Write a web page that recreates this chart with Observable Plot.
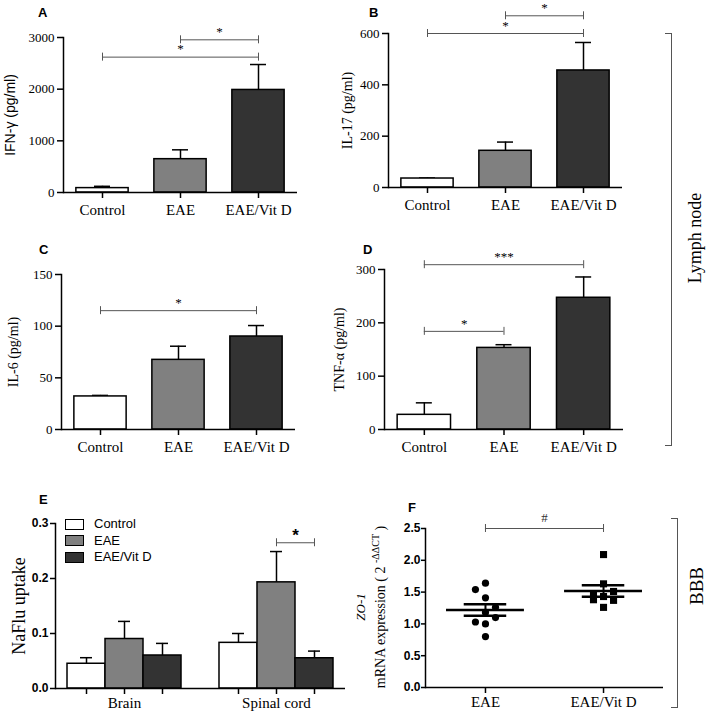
<!DOCTYPE html>
<html><head><meta charset="utf-8">
<script src="https://cdn.jsdelivr.net/npm/d3@7"></script>
<script src="https://cdn.jsdelivr.net/npm/@observablehq/plot@0.6"></script>
<style>
body{margin:0;background:#fff;}
#fig{position:relative;width:708px;height:716px;overflow:hidden;background:#fff;font-family:"Liberation Serif",serif;color:#000;}
.plab{position:absolute;font:bold 13px "Liberation Sans",Arial,sans-serif;line-height:13px;}
.rot{position:absolute;transform:translate(-50%,-50%) rotate(-90deg);white-space:nowrap;font-family:"Liberation Serif",serif;}
.brk{position:absolute;border:1.2px solid #555;border-left:none;box-sizing:border-box;}
.leg{position:absolute;font:13px "Liberation Sans",Arial,sans-serif;line-height:16.5px;}
.leg div{display:flex;align-items:center;height:16.5px;}
.leg span.sw{display:inline-block;width:17px;height:9px;border:1.5px solid #000;margin-right:10px;}
</style></head><body><div id="fig"></div>
<script>
// ---------- data ----------
const groups = ["Control", "EAE", "EAE/Vit D"];
const colors = ["#ffffff", "#808080", "#333333"];

// A: IFN-gamma
const ifnMean = [85, 645, 1985];
const ifnSem = [35, 181, 492];
const ifnSig = [{a: "EAE", b: "EAE/Vit D", y: 2955, t: "*"}, {a: "Control", b: "EAE/Vit D", y: 2620, t: "*"}];
const ifnTicks = [0, 1000, 2000, 3000];

// B: IL-17
const il17Mean = [35, 143, 456];
const il17Sem = [2, 34, 109];
const il17Sig = [{a: "EAE", b: "EAE/Vit D", y: 669, t: "*"}, {a: "Control", b: "EAE/Vit D", y: 600, t: "*"}];
const il17Ticks = [0, 200, 400, 600];

// C: IL-6
const il6Mean = [32, 67.4, 90];
const il6Sem = [1, 13.2, 10.6];
const il6Sig = [{a: "Control", b: "EAE/Vit D", y: 115, t: "*"}];
const il6Ticks = [0, 50, 100, 150];

// D: TNF-alpha
const tnfMean = [27.5, 153, 247];
const tnfSem = [22.5, 6, 39];
const tnfSig = [{a: "Control", b: "EAE/Vit D", y: 309, t: "***"}, {a: "Control", b: "EAE", y: 184, t: "*"}];
const tnfTicks = [0, 100, 200, 300];

// E: NaFlu uptake
const regions = ["Brain", "Spinal cord"];
const brainMean = [0.045, 0.090, 0.060];
const brainSem = [0.011, 0.032, 0.022];
const spinalMean = [0.083, 0.193, 0.055];
const spinalSem = [0.017, 0.056, 0.013];
const naSig = [{r: "Spinal cord", a: "EAE", b: "EAE/Vit D", y: 0.265, t: "*"}];
const naTicks = [0, 0.1, 0.2, 0.3];

// F: ZO-1 mRNA
const fGroups = ["EAE", "EAE/Vit D"];
const zoEAE = [1.64, 1.54, 1.41, 1.26, 1.18, 1.10, 1.03, 1.00, 0.80];
const zoEAEcol = [0, -1, 0, 1, 0, 1, -1, 0, 0];
const zoVitD = [2.09, 1.63, 1.51, 1.47, 1.43, 1.38, 1.37, 1.26];
const zoVitDcol = [0, 0, 1, -1, 0, -1, 1, 0];
const zoSig = [{a: 0, b: 1, y: 2.5, t: "#"}];
const zoTicks = [0, 0.5, 1.0, 1.5, 2.0, 2.5];

// ---------- helpers ----------
const SERIF = "Liberation Serif, Times New Roman, serif";
const SANS = "Liberation Sans, Arial, sans-serif";
const fig = document.getElementById("fig");
function place(node, left, top) {
  node.style.position = "absolute";
  node.style.left = left + "px";
  node.style.top = top + "px";
  fig.appendChild(node);
}
const baseStyle = {background: "transparent", fontFamily: SERIF, color: "black", overflow: "visible", fontSize: "13px"};

function barPanel(o) {
  const data = groups.map((g, i) => ({g, m: o.means[i], s: o.sems[i]}));
  const pi = 0.33, po = 0.165;
  const step = (o.width - o.mL - o.mR) / (groups.length - pi + 2 * po);
  const bw = step * (1 - pi);
  const capHalf = 8;
  const ends = o.sig.flatMap(s => [{x: s.a, y: s.y}, {x: s.b, y: s.y}]);
  const svg = Plot.plot({
    width: o.width, height: o.height,
    marginLeft: o.mL, marginRight: o.mR, marginTop: o.mT, marginBottom: o.mB,
    x: {domain: groups, paddingInner: pi, paddingOuter: po, round: false},
    y: {domain: o.yDomain},
    color: {domain: groups, range: colors},
    style: baseStyle,
    marks: [
      Plot.ruleX(data, {x: "g", y1: "m", y2: d => d.m + d.s, stroke: "black", strokeWidth: 1.5}),
      Plot.tickY(data, {x: "g", y: d => d.m + d.s, insetLeft: bw / 2 - capHalf, insetRight: bw / 2 - capHalf, stroke: "black", strokeWidth: 1.5}),
      Plot.barY(data, {x: "g", y: "m", fill: "g", stroke: "black", strokeWidth: 1.5}),
      Plot.ruleY([0], {stroke: "black", strokeWidth: 1.5}),
      Plot.frame({anchor: "left", stroke: "black", strokeWidth: 1.5}),
      Plot.axisY({ticks: o.yTicks, tickFormat: d3.format("d"), tickSize: 6, tickPadding: 3, fontSize: 13, fontFamily: SERIF, label: null, strokeWidth: 1.5}),
      Plot.axisX({tickSize: 6, tickPadding: 6, fontSize: 15, fontFamily: SERIF, label: null, strokeWidth: 1.5}),
      Plot.ruleY(o.sig, {x1: "a", x2: "b", y: "y", insetLeft: bw / 2, insetRight: bw / 2, stroke: "#555", strokeWidth: 1}),
      Plot.ruleX(ends, {x: "x", y1: "y", y2: "y", insetTop: -4, insetBottom: -4, stroke: "#555", strokeWidth: 1}),
      ...o.sig.map(s => Plot.text([s], {x: "a", y: "y", text: "t", dx: (groups.indexOf(s.b) - groups.indexOf(s.a)) * step / 2, dy: -8, fontSize: 13, fontFamily: SERIF, fill: "black"})),
      Plot.text([o.yLabel], {text: d => d, frameAnchor: "left", textAnchor: "middle", rotate: -90, dx: o.labelDx, fontFamily: o.labelFont, fontSize: o.labelSize})
    ]
  });
  place(svg, o.left, o.top);
}

// ---------- panels A-D ----------
barPanel({means: ifnMean, sems: ifnSem, sig: ifnSig, yDomain: [0, 3000], yTicks: ifnTicks,
  yLabel: "IFN-γ (pg/ml)", labelFont: SANS, labelSize: 14, labelDx: -53,
  left: 0, top: 0, width: 300, height: 225, mL: 63, mR: 3, mT: 37, mB: 33});
barPanel({means: il17Mean, sems: il17Sem, sig: il17Sig, yDomain: [0, 600], yTicks: il17Ticks,
  yLabel: "IL-17 (pg/ml)", labelFont: SERIF, labelSize: 14, labelDx: -41,
  left: 330, top: 0, width: 300, height: 220, mL: 58, mR: 8, mT: 33, mB: 33});
barPanel({means: il6Mean, sems: il6Sem, sig: il6Sig, yDomain: [0, 150], yTicks: il6Ticks,
  yLabel: "IL-6 (pg/ml)", labelFont: SERIF, labelSize: 14, labelDx: -48,
  left: 0, top: 220, width: 300, height: 240, mL: 61, mR: 5, mT: 54, mB: 31});
barPanel({means: tnfMean, sems: tnfSem, sig: tnfSig, yDomain: [0, 300], yTicks: tnfTicks,
  yLabel: "TNF-α (pg/ml)", labelFont: SERIF, labelSize: 14, labelDx: -45,
  left: 330, top: 220, width: 300, height: 240, mL: 54, mR: 7, mT: 49, mB: 31});

// ---------- panel E ----------
(function () {
  const W = 345, H = 236, mL = 55, mR = 0, mT = 43, mB = 28;
  const pi = 0.25, po = 0.079;
  const step = (W - mL - mR) / (regions.length - pi + 2 * po);
  const bw = step * (1 - pi);
  const sub = bw / 3;
  const capHalf = 6;
  const data = regions.flatMap((r, ri) => groups.map((g, gi) => ({
    r, g, gi,
    m: ri === 0 ? brainMean[gi] : spinalMean[gi],
    s: ri === 0 ? brainSem[gi] : spinalSem[gi]
  })));
  const marks = [];
  groups.forEach((g, gi) => {
    const d = data.filter(e => e.gi === gi);
    marks.push(
      Plot.ruleX(d, {x: "r", y1: "m", y2: e => e.m + e.s, dx: (gi - 1) * sub, stroke: "black", strokeWidth: 1.5}),
      Plot.tickY(d, {x: "r", y: e => e.m + e.s, insetLeft: sub * gi + sub / 2 - capHalf, insetRight: bw - (sub * gi + sub / 2 + capHalf), stroke: "black", strokeWidth: 1.5}),
      Plot.barY(d, {x: "r", y: "m", fill: "g", insetLeft: sub * gi, insetRight: sub * (2 - gi), stroke: "black", strokeWidth: 1.5}),
      Plot.ruleX(d, {x: "r", y1: 0, y2: 0, dx: (gi - 1) * sub, insetBottom: -6, stroke: "black", strokeWidth: 1.5})
    );
  });
  const ends = naSig.flatMap(s => [{r: s.r, gi: groups.indexOf(s.a), y: s.y}, {r: s.r, gi: groups.indexOf(s.b), y: s.y}]);
  marks.push(
    Plot.ruleY([0], {stroke: "black", strokeWidth: 1.5}),
    Plot.frame({anchor: "left", stroke: "black", strokeWidth: 1.5}),
    Plot.axisY({ticks: naTicks, tickFormat: d3.format(".1f"), tickSize: 5, tickPadding: 2, fontSize: 12, fontWeight: "bold", fontFamily: SANS, label: null, strokeWidth: 1.5}),
    Plot.axisX({tickSize: 0, tickPadding: 9, fontSize: 15, fontFamily: SERIF, label: null}),
    ...naSig.map(s => {
      const ia = groups.indexOf(s.a), ib = groups.indexOf(s.b);
      return Plot.ruleY([s], {x1: "r", x2: "r", y: "y", insetLeft: sub * ia + sub / 2, insetRight: bw - (sub * ib + sub / 2), stroke: "#555", strokeWidth: 1});
    }),
    ...ends.map(e => Plot.ruleX([e], {x: "r", y1: "y", y2: "y", dx: (e.gi - 1) * sub, insetTop: -4, insetBottom: -4, stroke: "#555", strokeWidth: 1})),
    ...naSig.map(s => Plot.text([s], {x: "r", y: "y", text: "t", dx: ((groups.indexOf(s.a) + groups.indexOf(s.b)) / 2 - 1) * sub, dy: -7, fontSize: 17, fontWeight: "bold", fontFamily: SANS})),
    Plot.text(["NaFlu uptake"], {text: d => d, frameAnchor: "left", textAnchor: "middle", rotate: -90, dx: -36, fontSize: 18, fontFamily: SERIF})
  );
  const svg = Plot.plot({
    width: W, height: H, marginLeft: mL, marginRight: mR, marginTop: mT, marginBottom: mB,
    x: {domain: regions, paddingInner: pi, paddingOuter: po, round: false},
    y: {domain: [0, 0.3]},
    color: {domain: groups, range: colors},
    style: baseStyle,
    marks
  });
  place(svg, 0, 480);

  // legend
  const leg = document.createElement("div");
  leg.className = "leg";
  leg.style.left = "65px";
  leg.style.top = "516px";
  groups.forEach((g, i) => {
    const row = document.createElement("div");
    const sw = document.createElement("span");
    sw.className = "sw";
    sw.style.background = colors[i];
    row.appendChild(sw);
    row.appendChild(document.createTextNode(g));
    leg.appendChild(row);
  });
  fig.appendChild(leg);
})();

// ---------- panel F ----------
(function () {
  const W = 330, H = 236, mL = 85, mR = 7, mT = 48, mB = 29;
  const jit = 0.085;
  const pts = [
    ...zoEAE.map((v, i) => ({gi: 0, v, col: zoEAEcol[i]})),
    ...zoVitD.map((v, i) => ({gi: 1, v, col: zoVitDcol[i]}))
  ];
  const stats = [zoEAE, zoVitD].map((arr, gi) => {
    const mean = d3.mean(arr);
    const sem = d3.deviation(arr) / Math.sqrt(arr.length);
    return {gi, mean, lo: mean - sem, hi: mean + sem};
  });
  const ends = zoSig.flatMap(s => [{x: s.a, y: s.y}, {x: s.b, y: s.y}]);
  const svg = Plot.plot({
    width: W, height: H, marginLeft: mL, marginRight: mR, marginTop: mT, marginBottom: mB,
    x: {type: "linear", domain: [-0.508, 1.508]},
    y: {domain: [0, 2.5]},
    style: baseStyle,
    marks: [
      Plot.dot(pts.filter(p => p.gi === 0), {x: p => p.gi + p.col * jit, y: "v", r: 3.6, fill: "black", symbol: "circle"}),
      Plot.dot(pts.filter(p => p.gi === 1), {x: p => p.gi + p.col * jit, y: "v", r: 4, fill: "black", symbol: "square"}),
      Plot.ruleY(stats, {x1: d => d.gi - 0.33, x2: d => d.gi + 0.33, y: "mean", stroke: "black", strokeWidth: 2.5}),
      Plot.ruleY(stats, {x1: d => d.gi - 0.18, x2: d => d.gi + 0.18, y: "lo", stroke: "black", strokeWidth: 2.5}),
      Plot.ruleY(stats, {x1: d => d.gi - 0.18, x2: d => d.gi + 0.18, y: "hi", stroke: "black", strokeWidth: 2.5}),
      Plot.ruleX(stats, {x: "gi", y1: "lo", y2: "hi", stroke: "black", strokeWidth: 2}),
      Plot.ruleY([0], {stroke: "black", strokeWidth: 1.5}),
      Plot.frame({anchor: "left", stroke: "black", strokeWidth: 1.5}),
      Plot.axisY({ticks: zoTicks, tickFormat: d3.format(".1f"), tickSize: 4, tickPadding: 1, fontSize: 12, fontWeight: "bold", fontFamily: SANS, label: null, strokeWidth: 1.5}),
      Plot.axisX({ticks: [0, 1], tickFormat: i => fGroups[i], tickSize: 6, tickPadding: 3, fontSize: 15, fontFamily: SERIF, label: null, strokeWidth: 1.5}),
      Plot.ruleY(zoSig, {x1: "a", x2: "b", y: "y", stroke: "#555", strokeWidth: 1}),
      Plot.ruleX(ends, {x: "x", y1: "y", y2: "y", insetTop: -4, insetBottom: -4, stroke: "#555", strokeWidth: 1}),
      Plot.text(zoSig, {x: d => (d.a + d.b) / 2, y: "y", text: "t", dy: -11, fontSize: 13, fontFamily: SERIF, fill: "#333"})
    ]
  });
  place(svg, 340, 480);
})();

// ---------- HTML annotations ----------
function addDiv(cls, html, css) {
  const d = document.createElement("div");
  d.className = cls;
  d.innerHTML = html;
  Object.assign(d.style, css);
  fig.appendChild(d);
  return d;
}
addDiv("plab", "A", {left: "38px", top: "6px"});
addDiv("plab", "B", {left: "369px", top: "6px"});
addDiv("plab", "C", {left: "39px", top: "243px"});
addDiv("plab", "D", {left: "363px", top: "243px"});
addDiv("plab", "E", {left: "39px", top: "493px"});
addDiv("plab", "F", {left: "408px", top: "501px"});

addDiv("rot", '<div style="font-style:italic;font-size:13px;line-height:15px;text-align:center">ZO-1</div><div style="font-size:14px;line-height:15px;text-align:center">mRNA expression ( 2 <sup style="font-size:10px;vertical-align:6px">-ΔΔCT</sup> )</div>',
  {left: "370px", top: "607px"});

addDiv("brk", "", {left: "665px", top: "33px", width: "7px", height: "413px"});
addDiv("rot", "Lymph node", {left: "695px", top: "238px", fontSize: "18px"});
addDiv("brk", "", {left: "671px", top: "518px", width: "7px", height: "190px"});
addDiv("rot", "BBB", {left: "697px", top: "586px", fontSize: "19px"});
</script>
</body></html>
